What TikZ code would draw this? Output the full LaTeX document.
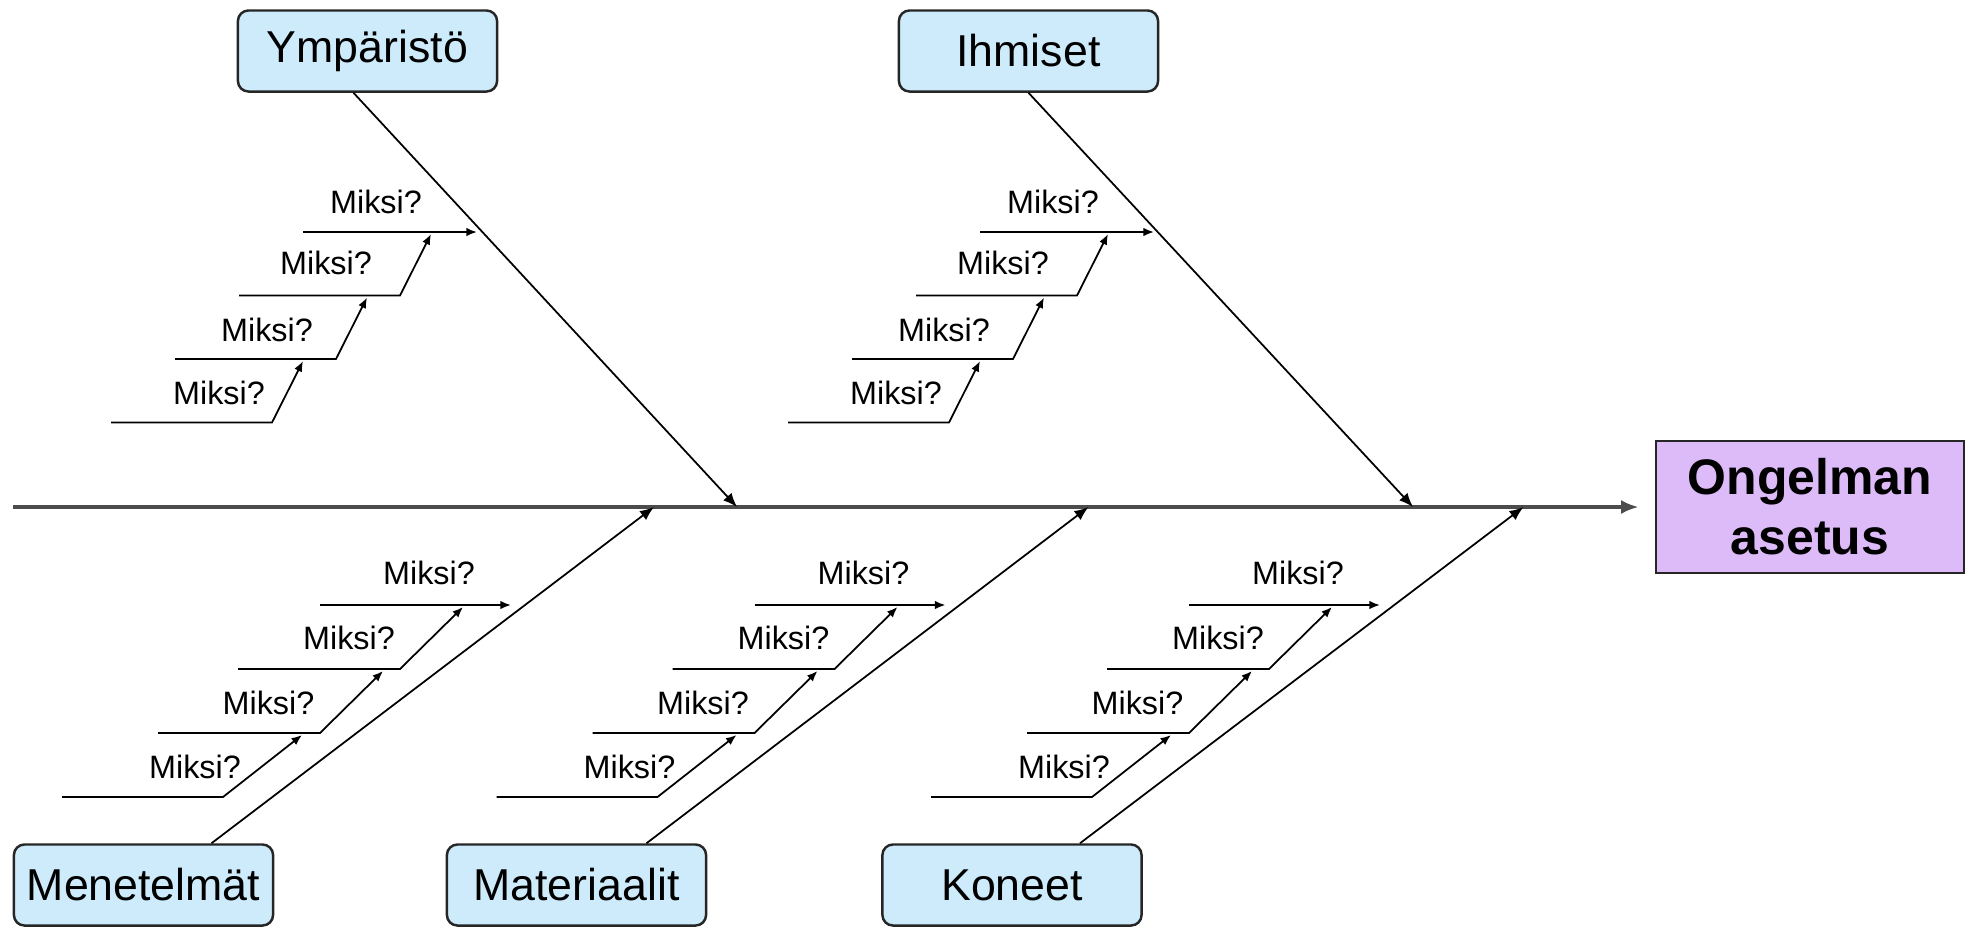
\documentclass[tikz,border=0pt]{standalone}
\usepackage{fontspec}
\setmainfont{Liberation Sans}
\usetikzlibrary{shapes,arrows,arrows.meta,positioning,calc}

\definecolor{causeblue}{HTML}{CDEBFB}
\definecolor{effectpurple}{HTML}{DDBBF9}

\tikzset{
  cause/.style={draw=black!85, line width=0.7pt, rounded corners=3pt, fill=causeblue,
    minimum width=2.59cm, minimum height=0.81cm, inner sep=0pt,
    font=\fontsize{12.7}{15}\selectfont},
  effect/.style={draw=black!85, line width=0.7pt, fill=effectpurple,
    minimum width=3.08cm, minimum height=1.32cm, align=center,
    font=\fontsize{14.2}{17}\selectfont\bfseries},
  spine/.style={line width=1pt, draw=black!70, -{Latex[length=5pt,width=4pt]}},
  bone/.style={line width=0.5pt, -{Latex[length=4pt,width=3.2pt]}},
  twig/.style={line width=0.5pt, -{Latex[length=3pt,width=2.4pt]}},
  why/.style={inner sep=0pt, font=\fontsize{9.2}{11}\selectfont}
}

\begin{document}
\begin{tikzpicture}[x=0.01cm, y=-0.01cm]
\useasboundingbox (0,0) rectangle (1968,926);

% 问题
\node[effect] (problem) at (1810,507) {Ongelman\\asetus};

% 原因框
\node[cause] (ymp) at (367.5,51) {Ympäristö};
\node[cause] (ihm) at (1028.5,51) {Ihmiset};
\node[cause] (men) at (143.5,885) {Menetelmät};
\node[cause] (mat) at (576.5,885) {Materiaalit};
\node[cause] (kon) at (1012,885) {Koneet};

% 主骨
\coordinate (tail) at (13,507);
\draw[spine, shorten >=0.16cm] (tail) -- (problem.west);

% 大骨
\coordinate (hy) at (737,507);
\coordinate (hi) at (1413,507);
\coordinate (hm) at (654,507);
\coordinate (ht) at (1088.5,507);
\coordinate (hk) at (1523.5,507);
\draw[bone] ([xshift=-0.14cm]ymp.south) -- (hy);
\draw[bone] (ihm.south) -- (hi);
\draw[bone] ($(men.north)+(68,0)$) -- (hm);
\draw[bone] ($(mat.north)+(70,0)$) -- (ht);
\draw[bone] ($(kon.north)+(68,0)$) -- (hk);

% 上方小骨
\foreach \dx/\g in {0/y,677/i}{
  \coordinate (\g s1) at (303+\dx,232);
  \coordinate (\g e1) at (477+\dx,232);
  \draw[twig] (\g s1) -- (\g e1);
  \node[why] (\g w1) at (376+\dx,202) {Miksi?};
  \foreach \k/\ly/\xs/\xb/\ex/\ey/\lx/\lh in {2/295.5/239/400/431/234/326/263,
      3/359/175/336/367/297.5/267/330, 4/422.5/111/272/303/361/219/393}{
    \coordinate (\g s\k) at (\xs+\dx,\ly);
    \coordinate (\g b\k) at (\xb+\dx,\ly);
    \coordinate (\g e\k) at (\ex+\dx,\ey);
    \draw[twig] (\g s\k) -- (\g b\k) -- (\g e\k);
    \node[why] (\g w\k) at (\lx+\dx,\lh) {Miksi?};
  }
}

% 下方小骨
\foreach \dx/\g in {0/m,434.5/t,869/k}{
  \coordinate (\g s1) at (320+\dx,605);
  \coordinate (\g e1) at (511+\dx,605);
  \draw[twig] (\g s1) -- (\g e1);
  \node[why] (\g w1) at (429+\dx,573) {Miksi?};
  \foreach \k/\ly/\xs/\xb/\ex/\ey/\lx/\lh in {2/669/238/400/463/607/349/638,
      3/733/158/320/383/671/268.5/703, 4/797/62/223/302/735/195/767}{
    \coordinate (\g s\k) at (\xs+\dx,\ly);
    \coordinate (\g b\k) at (\xb+\dx,\ly);
    \coordinate (\g e\k) at (\ex+\dx,\ey);
    \draw[twig] (\g s\k) -- (\g b\k) -- (\g e\k);
    \node[why] (\g w\k) at (\lx+\dx,\lh) {Miksi?};
  }
}
\end{tikzpicture}
\end{document}
